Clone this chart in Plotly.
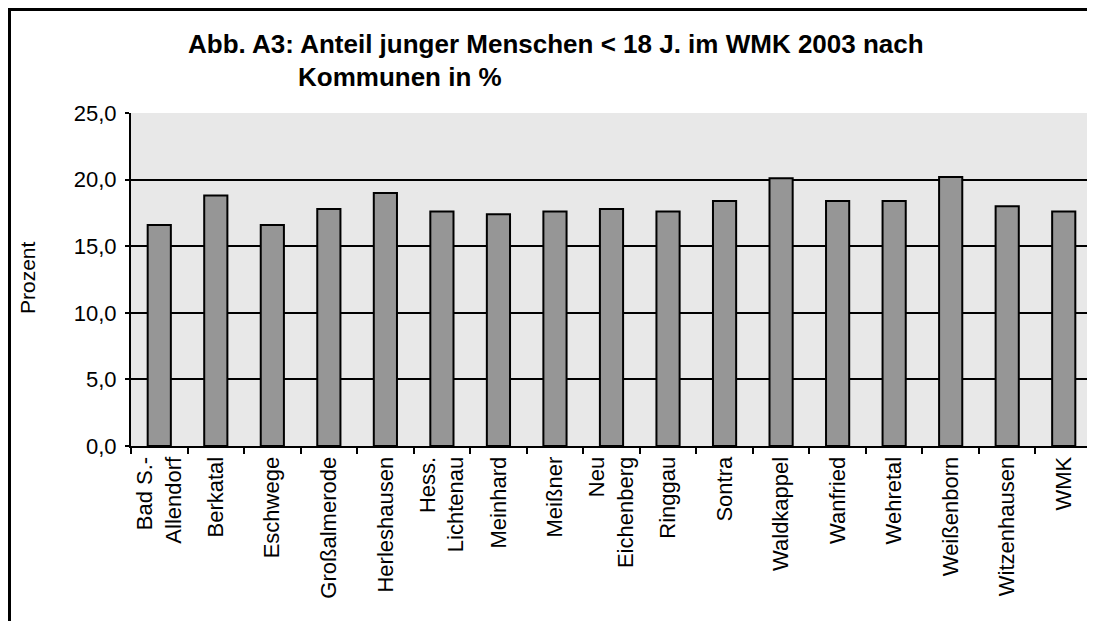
import plotly.graph_objects as go

# Anteil junger Menschen < 18 J. im WMK 2003
kommunen = ['Bad S.-<br>Allendorf', 'Berkatal', 'Eschwege', 'Großalmerode', 'Herleshausen',
            'Hess.<br>Lichtenau', 'Meinhard', 'Meißner', 'Neu<br>Eichenberg', 'Ringgau',
            'Sontra', 'Waldkappel', 'Wanfried', 'Wehretal', 'Weißenborn',
            'Witzenhausen', 'WMK']
anteil = [16.6, 18.8, 16.6, 17.8, 19.0, 17.6, 17.4, 17.6, 17.8, 17.6,
          18.4, 20.1, 18.4, 18.4, 20.2, 18.0, 17.6]
y_ticks = [0, 5, 10, 15, 20, 25]

FONT = "Arial, 'Liberation Sans', sans-serif"

# the page has an 8px body margin, so the figure is 8px smaller than the window
W, H = 1087, 613
L, R, T, B = 123, 3, 105, 175
PW, PH = W - L - R, H - T - B


def px_x(p):
    return (p - L) / PW


def px_y(p):
    return (H - B - p) / PH


fig = go.Figure(go.Bar(
    x=kommunen, y=anteil,
    marker=dict(color='#969696', line=dict(color='black', width=2)),
))

fig.update_layout(
    width=W, height=H,
    margin=dict(l=L, r=R, t=T, b=B),
    paper_bgcolor='white',
    plot_bgcolor='#e8e8e8',
    separators=',.',
    bargap=0.59,
    showlegend=False,
    font=dict(family=FONT, size=22, color='black'),
    xaxis=dict(
        tickangle=-90, ticks='outside', tickson='boundaries', ticklen=6,
        tickwidth=2, tickcolor='black', showline=True, linecolor='black',
        linewidth=2, showgrid=False, tickfont=dict(size=22),
    ),
    yaxis=dict(
        range=[0, 25], tickvals=y_ticks, tickformat='.1f',
        ticks='outside', ticklen=4, tickwidth=2, tickcolor='black',
        ticklabelstandoff=4,
        showline=True, linecolor='black', linewidth=2,
        showgrid=True, gridcolor='black', gridwidth=1.5, zeroline=False,
        tickfont=dict(size=22),
    ),
    annotations=[
        dict(text='<b>Abb. A3: Anteil junger Menschen < 18 J. im WMK 2003 nach</b>',
             xref='paper', yref='paper', x=px_x(178), y=px_y(36),
             xanchor='left', yanchor='middle', showarrow=False,
             font=dict(size=26)),
        dict(text='<b>Kommunen in %</b>',
             xref='paper', yref='paper', x=px_x(288), y=px_y(69),
             xanchor='left', yanchor='middle', showarrow=False,
             font=dict(size=26)),
        dict(text='Prozent', textangle=-90,
             xref='paper', yref='paper', x=px_x(19), y=px_y(270),
             xanchor='center', yanchor='middle', showarrow=False,
             font=dict(size=21)),
    ],
    # chart frame: only the top and left edges are inside the picture
    shapes=[
        dict(type='line', xref='paper', yref='paper',
             x0=px_x(0), y0=px_y(1.5), x1=px_x(W + 20), y1=px_y(1.5),
             line=dict(color='black', width=3)),
        dict(type='line', xref='paper', yref='paper',
             x0=px_x(1.5), y0=px_y(0), x1=px_x(1.5), y1=px_y(H + 20),
             line=dict(color='black', width=3)),
    ],
)

fig.write_html("out.html")
